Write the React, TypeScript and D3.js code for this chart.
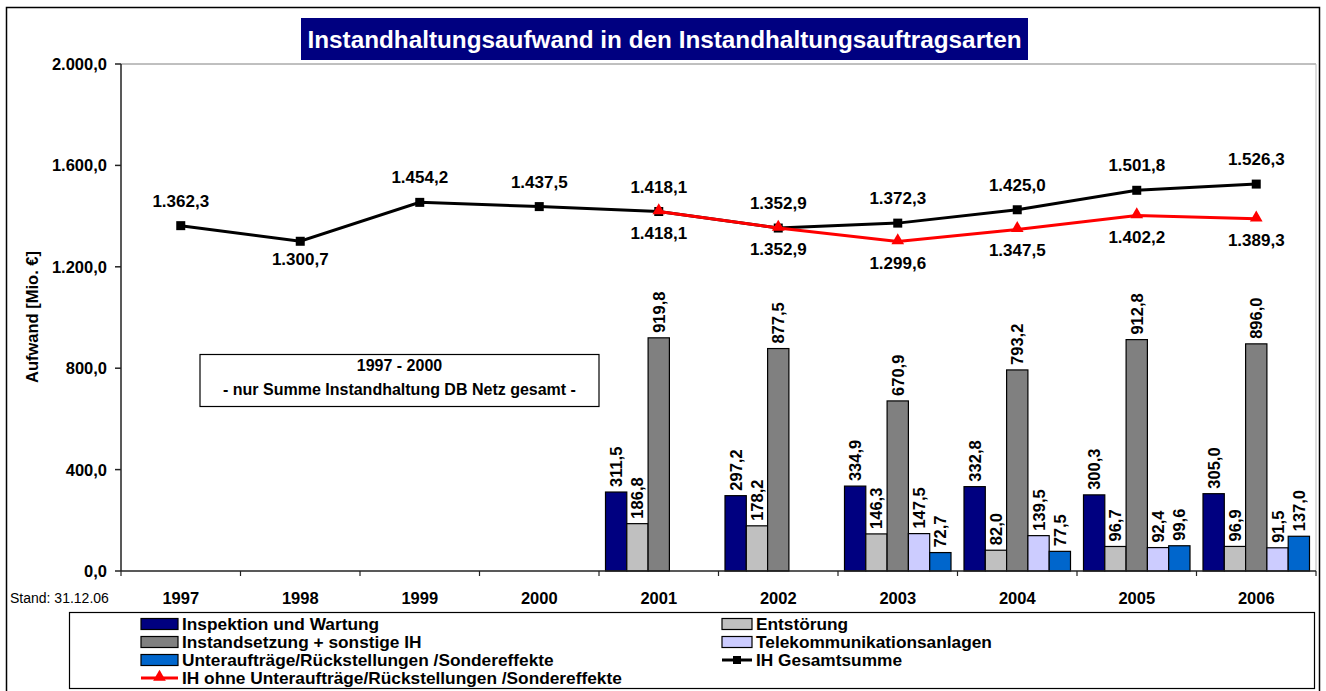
import React from 'react';
import * as d3 from 'd3';

// chart data (Mio. €)
const years = ['1997', '1998', '1999', '2000', '2001', '2002', '2003', '2004', '2005', '2006'];
const inspektion = [null, null, null, null, 311.5, 297.2, 334.9, 332.8, 300.3, 305.0];
const entstoerung = [null, null, null, null, 186.8, 178.2, 146.3, 82.0, 96.7, 96.9];
const instandsetzung = [null, null, null, null, 919.8, 877.5, 670.9, 793.2, 912.8, 896.0];
const telekom = [null, null, null, null, null, null, 147.5, 139.5, 92.4, 91.5];
const unterauftraege = [null, null, null, null, null, null, 72.7, 77.5, 99.6, 137.0];
const gesamtsumme = [1362.3, 1300.7, 1454.2, 1437.5, 1418.1, 1352.9, 1372.3, 1425.0, 1501.8, 1526.3];
const ohneUnterauftraege = [null, null, null, null, 1418.1, 1352.9, 1299.6, 1347.5, 1402.2, 1389.3];
const yTicks = [0, 400, 800, 1200, 1600, 2000];

const barSeries = [
  { key: 'insp', name: 'Inspektion und Wartung', values: inspektion, color: '#000080' },
  { key: 'ent', name: 'Entstörung', values: entstoerung, color: '#C0C0C0' },
  { key: 'inst', name: 'Instandsetzung + sonstige IH', values: instandsetzung, color: '#808080' },
  { key: 'tel', name: 'Telekommunikationsanlagen', values: telekom, color: '#CCCCFF' },
  { key: 'unt', name: 'Unteraufträge/Rückstellungen /Sondereffekte', values: unterauftraege, color: '#0066CC' },
];

const fmt = d3.formatLocale({ decimal: ',', thousands: '.', grouping: [3], currency: ['', ' €'] }).format(',.1f');

const FONT = 'Arial, "Liberation Sans", sans-serif';

export default function App() {
  const W = 1326;
  const H = 691;
  const plot = { left: 121, top: 64, right: 1316, bottom: 571 };

  const x = d3.scaleBand<string>().domain(years).range([plot.left, plot.right]);
  const xInner = d3.scaleBand<string>()
    .domain(barSeries.map(s => s.key))
    .range([6.5, x.bandwidth() - 6.5]);
  const y = d3.scaleLinear().domain([0, 2000]).range([plot.bottom, plot.top]);
  const cx = (yr: string) => (x(yr) ?? 0) + x.bandwidth() / 2;

  const lineGen = d3.line<[string, number | null]>()
    .defined(d => d[1] != null)
    .x(d => cx(d[0]))
    .y(d => y(d[1] as number));

  const blackPts = years.map((yr, i) => [yr, gesamtsumme[i]] as [string, number | null]);
  const redPts = years.map((yr, i) => [yr, ohneUnterauftraege[i]] as [string, number | null]);
  const labelBelow = ['1998'];

  const tri = d3.symbol().type(d3.symbolTriangle).size(70)();

  // legend rows
  const legendRows = [
    [{ kind: 'bar', s: barSeries[0] }, { kind: 'bar', s: barSeries[1] }],
    [{ kind: 'bar', s: barSeries[2] }, { kind: 'bar', s: barSeries[3] }],
    [{ kind: 'bar', s: barSeries[4] }, { kind: 'black', name: 'IH Gesamtsumme' }],
    [{ kind: 'red', name: 'IH ohne Unteraufträge/Rückstellungen /Sondereffekte' }],
  ];
  const legendCols = [{ x: 141, w: 37 }, { x: 722, w: 30 }];

  return (
    <svg width={W} height={H} style={{ position: 'absolute', left: 0, top: 0, background: '#fff' }}
      fontFamily={FONT}>
      {/* chart border */}
      <rect x={6.5} y={7.5} width={1313} height={690} fill="#fff" stroke="#000" strokeWidth={1.5} />

      {/* title */}
      <rect x={301} y={18} width={727} height={42} fill="#000080" />
      <text x={664.5} y={48} textAnchor="middle" fill="#fff" fontWeight="bold" fontSize={24.3}>
        Instandhaltungsaufwand in den Instandhaltungsauftragsarten
      </text>

      {/* plot area frame */}
      <line x1={plot.left} x2={plot.right} y1={plot.top} y2={plot.top} stroke="#808080" strokeWidth={1} />
      <line x1={plot.right} x2={plot.right} y1={plot.top} y2={plot.bottom} stroke="#bbb" strokeWidth={1} />

      {/* y axis */}
      <line x1={plot.left} x2={plot.left} y1={plot.top} y2={plot.bottom} stroke="#222" strokeWidth={1.5} />
      {yTicks.map(t => (
        <g key={t}>
          <line x1={plot.left - 6} x2={plot.left} y1={y(t)} y2={y(t)} stroke="#222" strokeWidth={1.5} />
          <text x={107} y={y(t) + 6} textAnchor="end" fontWeight="bold" fontSize={16.5}>{fmt(t)}</text>
        </g>
      ))}
      <text transform={`translate(38, 317) rotate(-90)`} textAnchor="middle" fontWeight="bold" fontSize={16.5}>
        Aufwand [Mio. €]
      </text>

      {/* annotation box */}
      <rect x={200} y={354.5} width={399} height={52} fill="#fff" stroke="#000" strokeWidth={1.2} />
      <text x={399.5} y={371} textAnchor="middle" fontWeight="bold" fontSize={16}>1997 - 2000</text>
      <text x={399.5} y={395} textAnchor="middle" fontWeight="bold" fontSize={16}>
        - nur Summe Instandhaltung DB Netz gesamt -
      </text>

      {/* bars */}
      {barSeries.map(s => (
        <g key={s.key}>
          {years.map((yr, i) => {
            const v = s.values[i];
            if (v == null) return null;
            const bx = (x(yr) ?? 0) + (xInner(s.key) ?? 0);
            const bw = xInner.bandwidth();
            return (
              <g key={yr}>
                <rect x={bx} y={y(v)} width={bw} height={plot.bottom - y(v)} fill={s.color}
                  stroke="#000" strokeWidth={1.2} />
                <text transform={`translate(${bx + bw / 2 + 6}, ${y(v) - 5}) rotate(-90)`}
                  fontWeight="bold" fontSize={16.5}>{fmt(v)}</text>
              </g>
            );
          })}
        </g>
      ))}

      {/* x axis */}
      <line x1={plot.left} x2={plot.right} y1={plot.bottom} y2={plot.bottom} stroke="#222" strokeWidth={1.5} />
      {years.map(yr => (
        <g key={yr}>
          <line x1={x(yr)} x2={x(yr)} y1={plot.bottom} y2={plot.bottom + 5} stroke="#222" strokeWidth={1.2} />
          <text x={cx(yr)} y={604} textAnchor="middle" fontWeight="bold" fontSize={16.5}>{yr}</text>
        </g>
      ))}
      <line x1={plot.right} x2={plot.right} y1={plot.bottom} y2={plot.bottom + 5} stroke="#222" strokeWidth={1.2} />
      <text x={10} y={603} fontSize={14}>Stand: 31.12.06</text>

      {/* black line: IH Gesamtsumme */}
      <path d={lineGen(blackPts) ?? ''} fill="none" stroke="#000" strokeWidth={3} />
      {blackPts.map(([yr, v]) => v == null ? null : (
        <g key={yr}>
          <rect x={cx(yr) - 4.5} y={y(v) - 4.5} width={9} height={9} fill="#000" />
          <text x={cx(yr)} y={labelBelow.includes(yr) ? y(v) + 24 : y(v) - 19}
            textAnchor="middle" fontWeight="bold" fontSize={17}>{fmt(v)}</text>
        </g>
      ))}

      {/* red line: ohne Unteraufträge */}
      <path d={lineGen(redPts) ?? ''} fill="none" stroke="#FF0000" strokeWidth={3} />
      {redPts.map(([yr, v]) => v == null ? null : (
        <g key={yr}>
          <path d={tri ?? ''} transform={`translate(${cx(yr)}, ${y(v) - 1})`} fill="#FF0000" />
          <text x={cx(yr)} y={y(v) + 27} textAnchor="middle" fontWeight="bold" fontSize={17}>{fmt(v)}</text>
        </g>
      ))}

      {/* legend */}
      <rect x={69.5} y={612.5} width={1245} height={76} fill="#fff" stroke="#000" strokeWidth={1.2} />
      {legendRows.map((row, r) => {
        const cy = 624 + r * 18;
        return row.map((item: any, c) => {
          const col = legendCols[c];
          const tx = col.x + col.w + 4;
          let swatch;
          if (item.kind === 'bar') {
            swatch = <rect x={col.x} y={cy - 5.5} width={col.w} height={11} fill={item.s.color} stroke="#000" strokeWidth={1.2} />;
          } else if (item.kind === 'black') {
            swatch = (
              <g>
                <line x1={col.x} x2={col.x + col.w} y1={cy} y2={cy} stroke="#000" strokeWidth={3} />
                <rect x={col.x + col.w / 2 - 4} y={cy - 4} width={8} height={8} fill="#000" />
              </g>
            );
          } else {
            swatch = (
              <g>
                <line x1={col.x} x2={col.x + col.w} y1={cy} y2={cy} stroke="#FF0000" strokeWidth={3} />
                <path d={tri ?? ''} transform={`translate(${col.x + col.w / 2}, ${cy - 1})`} fill="#FF0000" />
              </g>
            );
          }
          return (
            <g key={`${r}-${c}`}>
              {swatch}
              <text x={tx} y={cy + 6} fontWeight="bold" fontSize={17.3}>
                {item.kind === 'bar' ? item.s.name : item.name}
              </text>
            </g>
          );
        });
      })}
    </svg>
  );
}
